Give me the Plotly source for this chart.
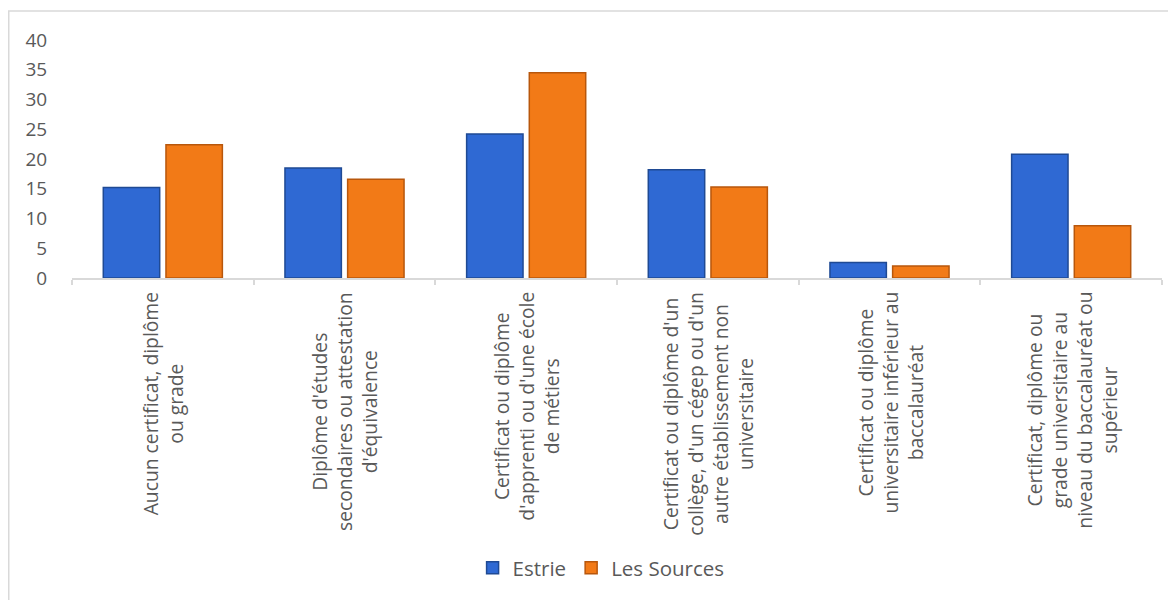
import plotly.graph_objects as go

categories = [
    "Aucun certificat, diplôme<br>ou grade",
    "Diplôme d'études<br>secondaires ou attestation<br>d'équivalence",
    "Certificat ou diplôme<br>d'apprenti ou d'une école<br>de métiers",
    "Certificat ou diplôme d'un<br>collège, d'un cégep ou d'un<br>autre établissement non<br>universitaire",
    "Certificat ou diplôme<br>universitaire inférieur au<br>baccalauréat",
    "Certificat, diplôme ou<br>grade universitaire au<br>niveau du baccalauréat ou<br>supérieur",
]
cat_keys = ["c1", "c2", "c3", "c4", "c5", "c6"]
estrie = [15.2, 18.5, 24.2, 18.2, 2.6, 20.8]
les_sources = [22.4, 16.6, 34.5, 15.3, 2.0, 8.8]
y_ticks = [0, 5, 10, 15, 20, 25, 30, 35, 40]

FONT = "Open Sans"
TXT = "#595959"
GRID = "#d9d9d9"

# figure geometry (page body has an 8px margin)
W, H = 1168, 592
ML, MT, PW, PH = 64, 32, 1090, 238
Y0 = MT + PH  # pixel of y=0

fig = go.Figure()
fig.add_trace(go.Bar(
    name="Estrie", x=cat_keys, y=estrie,
    marker=dict(color="#2f69d3", line=dict(color="#1f4a94", width=1.5)),
    hoverinfo="skip",
))
fig.add_trace(go.Bar(
    name="Les Sources", x=cat_keys, y=les_sources,
    marker=dict(color="#f27a17", line=dict(color="#b8570c", width=1.5)),
    hoverinfo="skip",
))

for k, lab in zip(cat_keys, categories):
    fig.add_annotation(
        x=k, xref="x", y=0, yref="paper", yanchor="top", xanchor="center",
        yshift=-12, text=lab, textangle=-90, align="center", showarrow=False,
        font=dict(family=FONT, size=19.3, color=TXT),
    )

# outer chart frame
fig.add_shape(
    type="rect", xref="paper", yref="paper",
    x0=(0.75 - ML) / PW, x1=(W + 6 - ML) / PW,
    y0=(Y0 - H - 10) / PH, y1=(Y0 - 3) / PH,
    line=dict(color=GRID, width=1.5), fillcolor="rgba(0,0,0,0)", layer="below",
)

fig.update_layout(
    width=W, height=H,
    margin=dict(l=ML, r=W - ML - PW, t=MT, b=H - MT - PH),
    paper_bgcolor="white", plot_bgcolor="white",
    barmode="group", bargap=0.31, bargroupgap=0.1,
    font=dict(family=FONT, size=18, color=TXT),
    showlegend=True,
    legend=dict(
        orientation="h", x=0.4854, xanchor="center",
        y=(Y0 - 560) / PH, yanchor="middle",
        font=dict(family=FONT, size=20.5, color=TXT),
        itemclick=False,
    ),
)
fig.update_xaxes(
    type="category", showline=True, linecolor=GRID, linewidth=1.5,
    ticks="outside", tickson="boundaries", ticklen=5, tickcolor=GRID, tickwidth=1.5,
    showticklabels=False, showgrid=False, zeroline=False, fixedrange=True,
)
fig.update_yaxes(
    range=[0, 40], tickvals=y_ticks, showgrid=False, zeroline=False,
    showline=False, ticks="outside", ticklen=20, tickcolor="rgba(0,0,0,0)",
    tickfont=dict(family=FONT, size=19, color=TXT), fixedrange=True,
)

fig.write_html("out.html")
